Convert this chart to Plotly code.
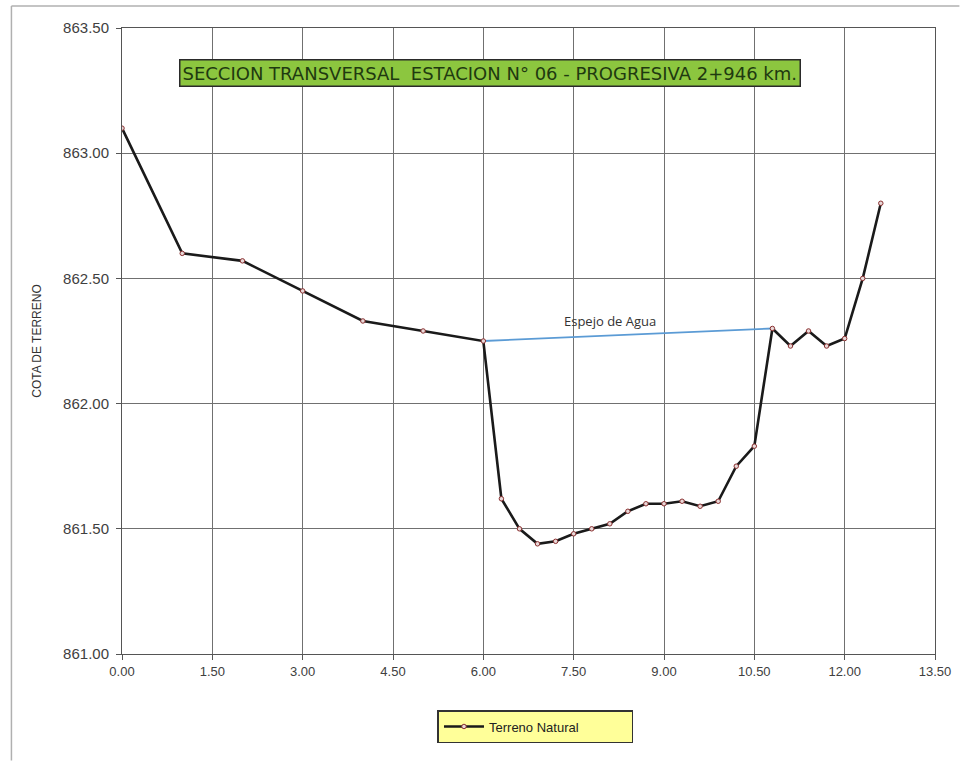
import plotly.graph_objects as go

distancia = [0.0, 1.0, 2.0, 3.0, 4.0, 5.0, 6.0, 6.3, 6.6, 6.9, 7.2, 7.5, 7.8, 8.1, 8.4,
             8.7, 9.0, 9.3, 9.6, 9.9, 10.2, 10.5, 10.8, 11.1, 11.4, 11.7, 12.0, 12.3, 12.6]
cota = [863.10, 862.60, 862.57, 862.45, 862.33, 862.29, 862.25, 861.62, 861.50, 861.44,
        861.45, 861.48, 861.50, 861.52, 861.57, 861.60, 861.60, 861.61, 861.59, 861.61,
        861.75, 861.83, 862.30, 862.23, 862.29, 862.23, 862.26, 862.50, 862.80]
espejo_x = [6.0, 10.8]
espejo_y = [862.25, 862.30]
x_ticks = [0.0, 1.5, 3.0, 4.5, 6.0, 7.5, 9.0, 10.5, 12.0, 13.5]
y_ticks = [861.0, 861.5, 862.0, 862.5, 863.0, 863.5]

fig = go.Figure()
fig.add_trace(go.Scatter(
    x=espejo_x, y=espejo_y, mode="lines",
    line=dict(color="#5B9BD5", width=1.8), showlegend=False, hoverinfo="skip"))
fig.add_trace(go.Scatter(
    x=distancia, y=cota, mode="lines+markers", name="Terreno Natural",
    line=dict(color="#1a1a1a", width=2.6),
    marker=dict(symbol="circle", size=4.5, color="#e8d8d8",
                line=dict(color="#8a3030", width=1))))

fig.add_annotation(x=8.1, y=862.285, xref="x", yref="y", text="Espejo de Agua",
                   showarrow=False, yanchor="bottom",
                   font=dict(family="Open Sans, Arial", size=13, color="#333333"))

fig.add_annotation(x=0.453, y=863.32, xref="paper", yref="y",
                   text="SECCION TRANSVERSAL  ESTACION N° 06 - PROGRESIVA 2+946 km.",
                   showarrow=False, bgcolor="#8CC63F", bordercolor="#2a2a2a",
                   borderwidth=1.5, borderpad=2,
                   font=dict(family="DejaVu Sans, Arial", size=18, color="#1f3a10"))

# outer chart border (left and top edges)
fig.add_shape(type="line", xref="paper", yref="paper", x0=-0.136, x1=1.03,
              y0=1.035, y1=1.035, line=dict(color="#b0b0b0", width=1.5))
fig.add_shape(type="line", xref="paper", yref="paper", x0=-0.136, x1=-0.136,
              y0=1.035, y1=-0.17, line=dict(color="#b0b0b0", width=1.5))

fig.update_layout(
    width=963, height=762,
    margin=dict(l=122, r=25, t=28, b=108),
    paper_bgcolor="white", plot_bgcolor="white",
    font=dict(family="Liberation Sans, Arial", size=12, color="#333333"),
    showlegend=True,
    legend=dict(x=0.5086, y=-0.0895, xanchor="center", yanchor="top",
                orientation="h", bgcolor="#FFFF99", bordercolor="#333333",
                borderwidth=1.5, font=dict(size=13, color="#222222"),
                itemwidth=40, entrywidth=138),
    xaxis=dict(range=[0, 13.5], tickvals=x_ticks,
               ticktext=[f"{v:.2f}" for v in x_ticks],
               showgrid=True, gridcolor="#707070", gridwidth=1,
               showline=True, linecolor="#555555", linewidth=1, mirror=True,
               ticks="outside", ticklen=5, tickcolor="#555555",
               zeroline=False, tickfont=dict(size=13, color="#404040")),
    yaxis=dict(range=[861.0, 863.5], tickvals=y_ticks,
               ticktext=[f"{v:.2f}" for v in y_ticks],
               showgrid=True, gridcolor="#707070", gridwidth=1,
               showline=True, linecolor="#555555", linewidth=1, mirror=True,
               ticks="outside", ticklen=5, tickcolor="#555555",
               ticklabelstandoff=4,
               zeroline=False, tickfont=dict(size=15, color="#404040"),
               title=dict(text="COTA DE TERRENO", standoff=18,
                          font=dict(size=12, color="#333333"))),
)

fig.write_html("out.html", config={"displayModeBar": False},
               post_script="document.body.style.margin='0';")
